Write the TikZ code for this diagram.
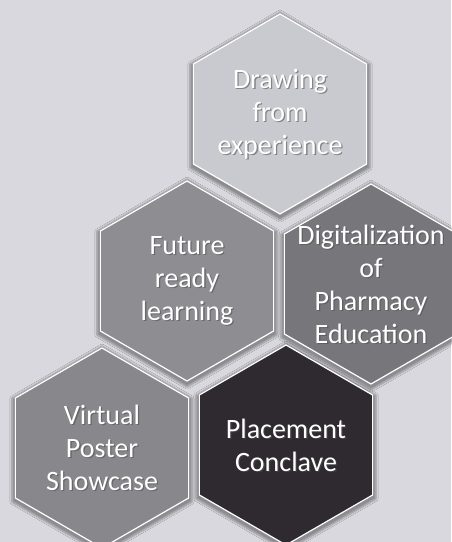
\documentclass[tikz,border=0pt]{standalone}
\usepackage{fontspec}
\setmainfont{Carlito}
\usetikzlibrary{shapes.geometric,shadows.blur}
\definecolor{bgcol}{HTML}{D8D8DE}
\definecolor{drawcol}{HTML}{C9C9D0}
\definecolor{futcol}{HTML}{8E8E92}
\definecolor{digcol}{HTML}{77777B}
\definecolor{vircol}{HTML}{88888C}
\definecolor{placol}{HTML}{2F2A30}
\tikzset{hex/.style = {draw=white, line width=1.2pt, regular polygon, regular polygon sides=6, shape border rotate=30, minimum size=200pt, inner sep=0pt,
    blur shadow={shadow xshift=0pt, shadow yshift=-2pt, shadow blur steps=6, shadow opacity=35, shadow scale=1.04}},
  txt/.style = {text=white, align=center, font=\fontsize{28}{33}\selectfont},
  txtshadow/.style = {txt, text=black!70, opacity=0.55, xshift=1.3pt, yshift=-1.3pt},
  hexlabel/.style = {label={[txtshadow]center:{#1}}, label={[txt]center:{#1}}}}

\begin{document}
\begin{tikzpicture}[x=1pt, y=-1pt]
    \fill[bgcol](0,0)rectangle(451,542);
    \useasboundingbox(0,0)rectangle(451,542);
    \node[hex, fill=drawcol, hexlabel={Drawing\\from\\experience}](draw)at(280,114){};
    \node[hex, fill=futcol, hexlabel={Future\\ready\\learning}](fut)at(187,281){};
    \node[hex, fill=digcol, hexlabel={Digitalization\\of\\Pharmacy\\Education}](dig)at(371,284){};
    \node[hex, fill=vircol, hexlabel={Virtual\\Poster\\Showcase}](vir)at(102,448){};
    \node[hex, fill=placol, hexlabel={Placement\\Conclave}](pla)at(286,445){};
\end{tikzpicture}
\end{document}
